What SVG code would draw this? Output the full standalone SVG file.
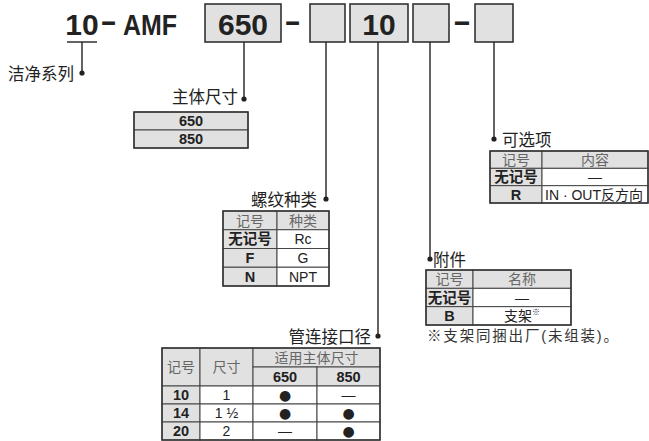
<svg xmlns="http://www.w3.org/2000/svg" width="649" height="441" viewBox="0 0 649 441">
<style>
.box{fill:#e1e1e1;stroke:#333;stroke-width:1.6}
.ln{stroke:#222;stroke-width:1.4;fill:none}
.dot{fill:#222}
.big{font-family:"Liberation Sans",Arial,sans-serif;font-weight:bold;font-size:30px;fill:#222}
.dash{font-family:"Liberation Sans",Arial,sans-serif;font-weight:bold;font-size:30px;fill:#222;text-anchor:middle}
.lbl{font-family:"Liberation Sans","Noto Sans CJK SC",sans-serif;font-size:16.5px;fill:#222}
.g{fill:#e1e1e1;stroke:#444;stroke-width:1}
.w{fill:#fff;stroke:#444;stroke-width:1}
.out{fill:none;stroke:#333;stroke-width:1.5}
.th{font-family:"Liberation Sans","Noto Sans CJK SC",sans-serif;font-size:14px;fill:#666;text-anchor:middle}
.tb{font-family:"Liberation Sans","Noto Sans CJK SC",sans-serif;font-size:14.5px;font-weight:bold;fill:#222;text-anchor:middle}
.tn{font-family:"Liberation Sans","Noto Sans CJK SC",sans-serif;font-size:14px;fill:#222;text-anchor:middle}
.ts{font-family:"Liberation Sans","Noto Sans CJK SC",sans-serif;font-size:14px;fill:#222;text-anchor:start}
.sym{font-family:"DejaVu Sans",sans-serif;font-size:14px;fill:#222;text-anchor:middle}
.note{font-family:"Liberation Sans","Noto Sans CJK SC",sans-serif;font-size:14.5px;fill:#333}
</style>

<g id="code">
  <text class="big" x="82" y="35" text-anchor="middle">10</text>
  <text class="dash" transform="translate(108.5,30.5) scale(1.67,1)">-</text>
  <text class="big" x="123" y="35" textLength="54" lengthAdjust="spacingAndGlyphs">AMF</text>
  <rect class="box" x="205" y="4" width="76" height="38"/>
  <text class="big" x="243" y="35" text-anchor="middle">650</text>
  <text class="dash" transform="translate(292.5,30.5) scale(1.67,1)">-</text>
  <rect class="box" x="310" y="4" width="35" height="38"/>
  <rect class="box" x="350" y="4" width="58" height="38"/>
  <text class="big" x="379" y="35" text-anchor="middle">10</text>
  <rect class="box" x="413" y="4" width="36" height="38"/>
  <text class="dash" transform="translate(462,30.5) scale(1.85,1)">-</text>
  <rect class="box" x="475" y="4" width="38" height="38"/>
</g>

<g id="connectors">
  <line class="ln" x1="67" y1="42" x2="97" y2="42"/>
  <line class="ln" x1="82" y1="42" x2="82" y2="73"/>
  <circle class="dot" cx="82" cy="73" r="2.6"/>
  <line class="ln" x1="244" y1="42" x2="244" y2="99"/>
  <circle class="dot" cx="244" cy="99" r="2.6"/>
  <line class="ln" x1="326" y1="42" x2="326" y2="199"/>
  <circle class="dot" cx="326" cy="199" r="2.6"/>
  <line class="ln" x1="378" y1="42" x2="378" y2="336"/>
  <circle class="dot" cx="378" cy="336" r="2.6"/>
  <line class="ln" x1="430" y1="42" x2="430" y2="259"/>
  <circle class="dot" cx="430" cy="259" r="2.6"/>
  <line class="ln" x1="494" y1="42" x2="494" y2="139"/>
  <circle class="dot" cx="494" cy="139" r="2.6"/>
</g>

<g id="series">
  <text class="lbl" x="74" y="80" text-anchor="end">洁净系列</text>
</g>

<g id="body-size">
  <text class="lbl" x="238" y="103" text-anchor="end">主体尺寸</text>
  <rect class="g" x="134" y="112" width="114" height="18"/>
  <rect class="g" x="134" y="130" width="114" height="18"/>
  <rect class="out" x="134" y="112" width="114" height="36"/>
  <text class="tb" x="191" y="126.2">650</text>
  <text class="tb" x="191" y="144.2">850</text>
</g>

<g id="thread">
  <text class="lbl" x="317" y="206" text-anchor="end">螺纹种类</text>
  <rect class="g" x="223" y="211" width="54" height="18.75"/>
  <rect class="g" x="277" y="211" width="52" height="18.75"/>
  <rect class="g" x="223" y="229.75" width="54" height="18.75"/>
  <rect class="w" x="277" y="229.75" width="52" height="18.75"/>
  <rect class="g" x="223" y="248.5" width="54" height="18.75"/>
  <rect class="w" x="277" y="248.5" width="52" height="18.75"/>
  <rect class="g" x="223" y="267.25" width="54" height="18.75"/>
  <rect class="w" x="277" y="267.25" width="52" height="18.75"/>
  <rect class="out" x="223" y="211" width="106" height="75"/>
  <text class="th" x="250" y="225.5">记号</text>
  <text class="th" x="303" y="225.5">种类</text>
  <text class="tb" x="250" y="244.3">无记号</text>
  <text class="tn" x="303" y="244.3">Rc</text>
  <text class="tb" x="250" y="263">F</text>
  <text class="tn" x="303" y="263">G</text>
  <text class="tb" x="250" y="281.8">N</text>
  <text class="tn" x="303" y="281.8">NPT</text>
</g>

<g id="port-size">
  <text class="lbl" x="371" y="343" text-anchor="end">管连接口径</text>
  <rect class="g" x="162" y="348" width="38" height="38"/>
  <rect class="g" x="200" y="348" width="53" height="38"/>
  <rect class="g" x="253" y="348" width="127" height="19"/>
  <rect class="g" x="253" y="367" width="64" height="19"/>
  <rect class="g" x="317" y="367" width="63" height="19"/>
  <rect class="g" x="162" y="386" width="38" height="18"/>
  <rect class="w" x="200" y="386" width="53" height="18"/>
  <rect class="w" x="253" y="386" width="64" height="18"/>
  <rect class="w" x="317" y="386" width="63" height="18"/>
  <rect class="g" x="162" y="404" width="38" height="18"/>
  <rect class="w" x="200" y="404" width="53" height="18"/>
  <rect class="w" x="253" y="404" width="64" height="18"/>
  <rect class="w" x="317" y="404" width="63" height="18"/>
  <rect class="g" x="162" y="422" width="38" height="18"/>
  <rect class="w" x="200" y="422" width="53" height="18"/>
  <rect class="w" x="253" y="422" width="64" height="18"/>
  <rect class="w" x="317" y="422" width="63" height="18"/>
  <rect class="out" x="162" y="348" width="218" height="92"/>
  <text class="th" x="181" y="372.2">记号</text>
  <text class="th" x="226.5" y="372.2">尺寸</text>
  <text class="th" x="316.5" y="362.7">适用主体尺寸</text>
  <text class="tb" x="285" y="381.7">650</text>
  <text class="tb" x="348.5" y="381.7">850</text>
  <text class="tb" x="181" y="400.2">10</text>
  <text class="tn" x="226.5" y="400.2">1</text>
  <text class="sym" x="285" y="400.2">●</text>
  <text class="tn" x="348.5" y="400.2">—</text>
  <text class="tb" x="181" y="418.2">14</text>
  <text class="tn" x="226.5" y="418.2">1 ½</text>
  <text class="sym" x="285" y="418.2">●</text>
  <text class="sym" x="348.5" y="418.2">●</text>
  <text class="tb" x="181" y="436.2">20</text>
  <text class="tn" x="226.5" y="436.2">2</text>
  <text class="tn" x="285" y="436.2">—</text>
  <text class="sym" x="348.5" y="436.2">●</text>
</g>

<g id="accessory">
  <text class="lbl" x="433" y="266">附件</text>
  <rect class="g" x="426" y="270" width="47" height="18.33"/>
  <rect class="g" x="473" y="270" width="98" height="18.33"/>
  <rect class="g" x="426" y="288.33" width="47" height="18.33"/>
  <rect class="w" x="473" y="288.33" width="98" height="18.33"/>
  <rect class="g" x="426" y="306.67" width="47" height="18.33"/>
  <rect class="w" x="473" y="306.67" width="98" height="18.33"/>
  <rect class="out" x="426" y="270" width="145" height="55"/>
  <text class="th" x="449.5" y="284.4">记号</text>
  <text class="th" x="522" y="284.4">名称</text>
  <text class="tb" x="449.5" y="302.7">无记号</text>
  <text class="tn" x="522" y="302.7">—</text>
  <text class="tb" x="449.5" y="321">B</text>
  <text class="tn" x="522" y="321">支架<tspan font-size="8" dy="-6">※</tspan></text>
  <text class="note" x="427" y="341" textLength="191" lengthAdjust="spacing">※支架同捆出厂(未组装)。</text>
</g>

<g id="option">
  <text class="lbl" x="502" y="146">可选项</text>
  <rect class="g" x="490" y="151" width="52" height="17.33"/>
  <rect class="g" x="542" y="151" width="106" height="17.33"/>
  <rect class="g" x="490" y="168.33" width="52" height="17.33"/>
  <rect class="w" x="542" y="168.33" width="106" height="17.33"/>
  <rect class="g" x="490" y="185.67" width="52" height="17.33"/>
  <rect class="w" x="542" y="185.67" width="106" height="17.33"/>
  <rect class="out" x="490" y="151" width="158" height="52"/>
  <text class="th" x="516" y="164.9">记号</text>
  <text class="th" x="595" y="164.9">内容</text>
  <text class="tb" x="516" y="182.2">无记号</text>
  <text class="tn" x="595" y="182.2">—</text>
  <text class="tb" x="516" y="199.5">R</text>
  <text class="ts" x="545" y="199.5">IN · OUT反方向</text>
</g>
</svg>
